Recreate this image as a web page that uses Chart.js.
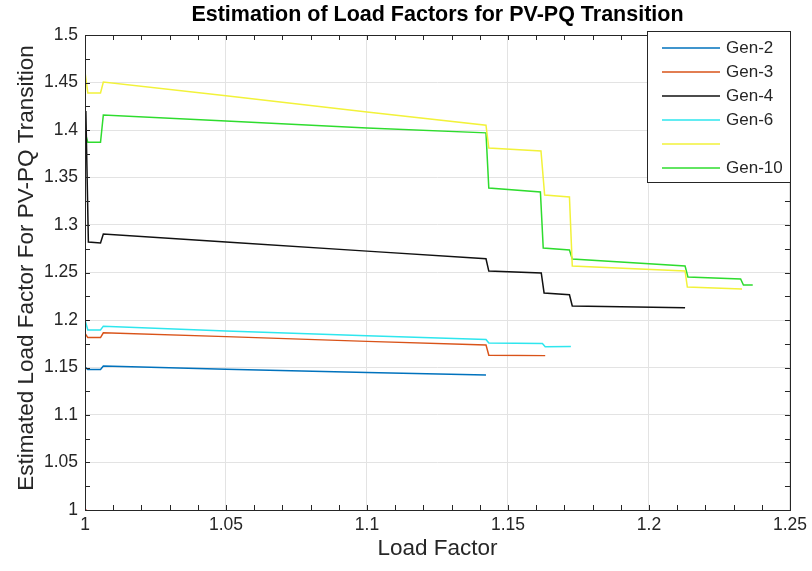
<!DOCTYPE html>
<html>
<head>
<meta charset="utf-8">
<script src="https://cdn.jsdelivr.net/npm/chart.js@4/dist/chart.umd.min.js"></script>
<style>
  html, body { margin: 0; padding: 0; background: #fff; }
  #wrap { width: 812px; height: 571px; }
</style>
</head>
<body>
<div id="wrap"><canvas id="c" width="812" height="571"></canvas></div>
<script>
// Estimated PV-PQ transition load factor per generator vs. system load factor
const chartTitle = 'Estimation of Load Factors for PV-PQ Transition';
const yAxisTitle = 'Estimated Load Factor For PV-PQ Transition';
const xAxisTitle = 'Load Factor';
const seriesNames = ['Gen-2', 'Gen-3', 'Gen-4', 'Gen-6', '', 'Gen-10'];
const seriesColors = ['#0072BD', '#D95319', '#111111', '#2EE6EE', '#F2F23A', '#2EDC2E'];

const gen2Load = [1.000, 1.001, 1.0055, 1.0065, 1.05, 1.10, 1.1422];
const gen2Est  = [1.1505, 1.148, 1.148, 1.1516, 1.1482, 1.1448, 1.1422];

const gen3Load = [1.000, 1.001, 1.0055, 1.0065, 1.05, 1.10, 1.1422, 1.1432, 1.1632];
const gen3Est  = [1.186, 1.1815, 1.1815, 1.1865, 1.1825, 1.1775, 1.1738, 1.1630, 1.1625];

const gen4Load = [1.0003, 1.0012, 1.0055, 1.0065, 1.05, 1.10, 1.1422, 1.1432, 1.1618, 1.1628, 1.1718, 1.1728, 1.2128];
const gen4Est  = [1.420, 1.282, 1.281, 1.2905, 1.282, 1.2725, 1.2645, 1.2515, 1.2495, 1.2285, 1.2265, 1.2148, 1.2128];

const gen6Load = [1.000, 1.001, 1.0055, 1.0065, 1.05, 1.10, 1.1422, 1.1432, 1.1622, 1.1632, 1.1723];
const gen6Est  = [1.200, 1.1895, 1.1895, 1.1935, 1.1885, 1.1835, 1.1795, 1.1758, 1.1752, 1.1718, 1.1722];

const gen8Load = [1.000, 1.001, 1.0055, 1.0065, 1.05, 1.10, 1.1422, 1.1432, 1.1617, 1.1630, 1.1718, 1.1728, 1.2128, 1.2136, 1.2330];
const gen8Est  = [1.461, 1.439, 1.439, 1.4505, 1.436, 1.419, 1.405, 1.381, 1.378, 1.3315, 1.3295, 1.2568, 1.2516, 1.2347, 1.2326];

const gen10Load = [1.000, 1.001, 1.0055, 1.0065, 1.05, 1.10, 1.1422, 1.1432, 1.1615, 1.1625, 1.1718, 1.1728, 1.2128, 1.2138, 1.2325, 1.2335, 1.2368];
const gen10Est  = [1.398, 1.387, 1.387, 1.4158, 1.4095, 1.402, 1.397, 1.339, 1.3347, 1.2758, 1.2737, 1.2642, 1.2568, 1.2453, 1.2432, 1.2368, 1.2368];

const baseLoad = [1.000];
const baseEst  = [1.000];

const xTickValues = [1, 1.05, 1.1, 1.15, 1.2, 1.25];
const yTickValues = [1, 1.05, 1.1, 1.15, 1.2, 1.25, 1.3, 1.35, 1.4, 1.45, 1.5];

const loads = [gen2Load, gen3Load, gen4Load, gen6Load, gen8Load, gen10Load];
const ests  = [gen2Est, gen3Est, gen4Est, gen6Est, gen8Est, gen10Est];

const toPoints = (xs, ys) => xs.map((v, i) => ({ x: v, y: ys[i] }));

const datasets = seriesNames.map((name, i) => ({
  label: name,
  data: toPoints(loads[i], ests[i]),
  borderColor: seriesColors[i],
  backgroundColor: seriesColors[i],
  borderWidth: 1.5,
  pointRadius: 0,
  showLine: true,
  tension: 0
}));
datasets.push({
  label: '',
  data: toPoints(baseLoad, baseEst),
  borderColor: '#E03030',
  backgroundColor: '#E03030',
  pointRadius: 1.2,
  showLine: false
});

const FONT = "'Liberation Sans', Arial, Helvetica, sans-serif";
const TEXT = '#262626';
const fmt = v => String(Number(Number(v).toFixed(2)));

// titles, axes box with inward ticks, legend box
const framePlugin = {
  id: 'frame',
  afterDraw(chart) {
    const { ctx, chartArea: a, scales: { x, y } } = chart;
    ctx.save();

    ctx.fillStyle = '#000';
    ctx.font = 'bold 21.5px ' + FONT;
    ctx.textAlign = 'center';
    ctx.textBaseline = 'middle';
    ctx.fillText(chartTitle, (a.left + a.right) / 2, 15);

    ctx.fillStyle = TEXT;
    ctx.font = '22.5px ' + FONT;
    ctx.fillText(xAxisTitle, (a.left + a.right) / 2, 549);
    ctx.save();
    ctx.translate(27, 268);
    ctx.rotate(-Math.PI / 2);
    ctx.fillText(yAxisTitle, 0, 0);
    ctx.restore();

    ctx.strokeStyle = TEXT;
    ctx.lineWidth = 1;
    ctx.beginPath();
    for (let i = 0; i <= 25; i++) {
      const px = Math.round(x.getPixelForValue(1 + i * 0.01)) + 0.5;
      ctx.moveTo(px, a.bottom); ctx.lineTo(px, a.bottom - 5);
      ctx.moveTo(px, a.top); ctx.lineTo(px, a.top + 5);
    }
    for (let i = 0; i <= 20; i++) {
      const py = Math.round(y.getPixelForValue(1 + i * 0.025)) + 0.5;
      ctx.moveTo(a.left, py); ctx.lineTo(a.left + 5, py);
      ctx.moveTo(a.right, py); ctx.lineTo(a.right - 5, py);
    }
    ctx.stroke();
    ctx.strokeRect(Math.round(a.left) + 0.5, Math.round(a.top) + 0.5,
                   Math.round(a.right - a.left), Math.round(a.bottom - a.top));

    // legend
    const lx = 647, ly = 31, lw = 143, lh = 151;
    ctx.fillStyle = '#ffffff';
    ctx.fillRect(lx, ly, lw, lh);
    ctx.strokeStyle = TEXT;
    ctx.strokeRect(lx + 0.5, ly + 0.5, lw, lh);
    ctx.font = '17px ' + FONT;
    ctx.textBaseline = 'middle';
    ctx.textAlign = 'left';
    seriesNames.forEach((name, i) => {
      const ry = 48 + i * 24;
      ctx.strokeStyle = seriesColors[i];
      ctx.lineWidth = 1.5;
      ctx.beginPath();
      ctx.moveTo(662, ry); ctx.lineTo(720, ry);
      ctx.stroke();
      ctx.fillStyle = TEXT;
      if (name) ctx.fillText(name, 726, ry);
    });
    ctx.restore();
  }
};

new Chart(document.getElementById('c'), {
  type: 'scatter',
  data: { datasets },
  plugins: [framePlugin],
  options: {
    responsive: false,
    animation: false,
    layout: { padding: { left: 0, right: 19, top: 35, bottom: 0 } },
    plugins: {
      legend: { display: false },
      tooltip: { enabled: false },
      title: { display: false }
    },
    scales: {
      x: {
        type: 'linear',
        min: 1, max: 1.25,
        afterFit: s => { s.height = 61; },
        afterBuildTicks: s => { s.ticks = xTickValues.map(v => ({ value: v })); },
        ticks: {
          callback: fmt, color: TEXT, padding: 5, autoSkip: false, maxRotation: 0,
          font: { family: FONT, size: 17.5 }
        },
        grid: { color: '#E3E3E3', drawTicks: false },
        border: { display: false },
        title: { display: false }
      },
      y: {
        type: 'linear',
        min: 1, max: 1.5,
        afterFit: s => { s.width = 85; },
        afterBuildTicks: s => { s.ticks = yTickValues.map(v => ({ value: v })); },
        ticks: {
          callback: fmt, color: TEXT, padding: 7, autoSkip: false,
          font: { family: FONT, size: 17.5 }
        },
        grid: { color: '#E3E3E3', drawTicks: false },
        border: { display: false },
        title: { display: false }
      }
    }
  }
});
</script>
</body>
</html>
